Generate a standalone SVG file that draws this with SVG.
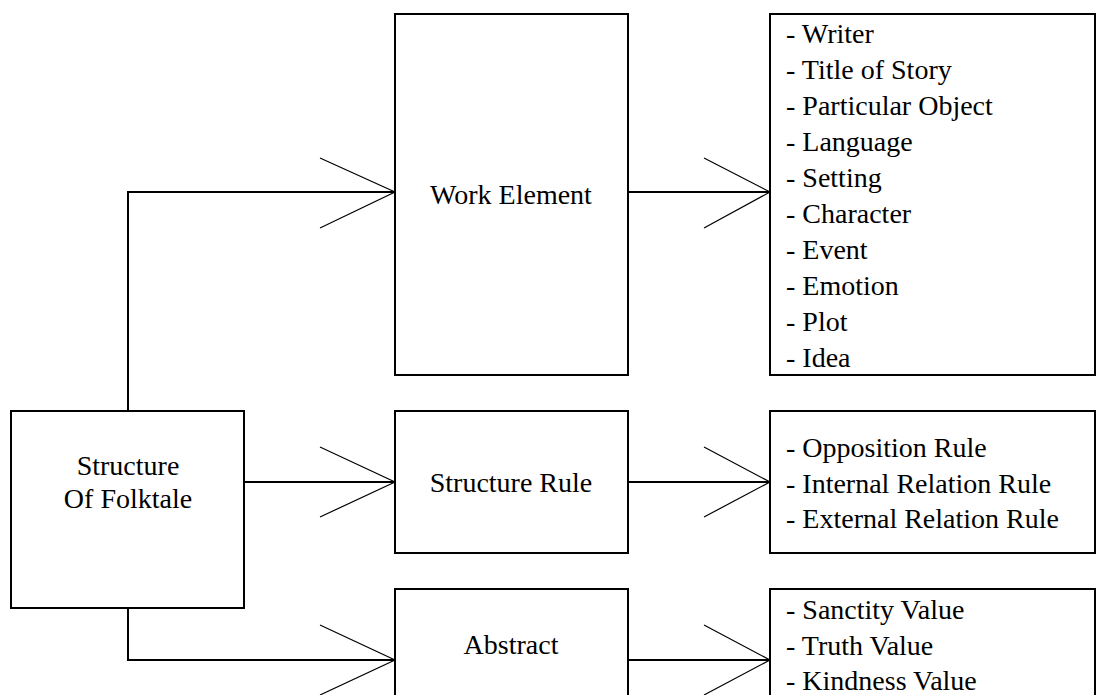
<svg xmlns="http://www.w3.org/2000/svg" width="1096" height="695" viewBox="0 0 1096 695">
<style>
.box{fill:#fff;stroke:#000;stroke-width:2}
.conn{fill:none;stroke:#000;stroke-width:2}
.head{fill:none;stroke:#000;stroke-width:1.2}
text{font-family:"Liberation Serif","Times New Roman",serif;font-size:28px;fill:#000}
.c{text-anchor:middle}
</style>
<rect width="1096" height="695" fill="#fff"/>
<g id="connectors">
<path class="conn" d="M128,411 V192 H395"/>
<path class="head" d="M320,158 L395,192 L320,228"/>
<path class="conn" d="M244,482 H395"/>
<path class="head" d="M320,447 L395,482 L320,517"/>
<path class="conn" d="M128,608 V660 H395"/>
<path class="head" d="M320,625 L395,660 L320,695"/>
<path class="conn" d="M628,192 H770"/>
<path class="head" d="M704,158 L770,192 L704,228"/>
<path class="conn" d="M628,482 H770"/>
<path class="head" d="M704,447 L770,482 L704,517"/>
<path class="conn" d="M628,660 H770"/>
<path class="head" d="M704,625 L770,660 L704,695"/>
</g>
<g id="structure-of-folktale">
<rect class="box" x="11" y="411" width="233" height="197"/>
<text class="c" x="128" y="475">Structure</text>
<text class="c" x="128" y="508">Of Folktale</text>
</g>
<g id="work-element">
<rect class="box" x="395" y="14" width="233" height="361"/>
<text class="c" x="511" y="204">Work Element</text>
</g>
<g id="structure-rule">
<rect class="box" x="395" y="411" width="233" height="142"/>
<text class="c" x="511" y="492">Structure Rule</text>
</g>
<g id="abstract">
<rect class="box" x="395" y="589" width="233" height="120"/>
<text class="c" x="511" y="654">Abstract</text>
</g>
<g id="work-element-list">
<rect class="box" x="770" y="14" width="325" height="361"/>
<text x="786" y="43">- Writer</text>
<text x="786" y="79">- Title of Story</text>
<text x="786" y="115">- Particular Object</text>
<text x="786" y="151">- Language</text>
<text x="786" y="187">- Setting</text>
<text x="786" y="223">- Character</text>
<text x="786" y="259">- Event</text>
<text x="786" y="295">- Emotion</text>
<text x="786" y="331">- Plot</text>
<text x="786" y="367">- Idea</text>
</g>
<g id="structure-rule-list">
<rect class="box" x="770" y="411" width="325" height="142"/>
<text x="786" y="457">- Opposition Rule</text>
<text x="786" y="493">- Internal Relation Rule</text>
<text x="786" y="528">- External Relation Rule</text>
</g>
<g id="abstract-list">
<rect class="box" x="770" y="589" width="325" height="120"/>
<text x="786" y="619">- Sanctity Value</text>
<text x="786" y="655">- Truth Value</text>
<text x="786" y="690">- Kindness Value</text>
</g>
</svg>
